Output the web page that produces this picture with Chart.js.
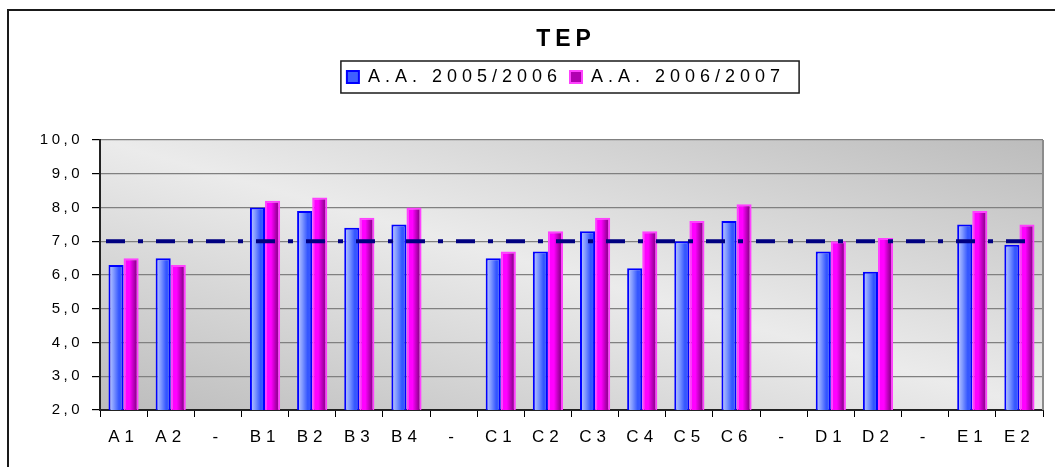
<!DOCTYPE html>
<html>
<head>
<meta charset="utf-8">
<script src="https://cdn.jsdelivr.net/npm/chart.js@4/dist/chart.umd.min.js"></script>
<style>
  html, body { margin: 0; padding: 0; background: #fff; overflow: hidden; }
  canvas { display: block; }
</style>
</head>
<body>
<canvas id="myChart" width="1055" height="467"></canvas>
<script>
// dati
const categorie = ['A1', 'A2', '-', 'B1', 'B2', 'B3', 'B4', '-', 'C1', 'C2', 'C3', 'C4', 'C5', 'C6', '-', 'D1', 'D2', '-', 'E1', 'E2'];
const aa0506 = [6.3, 6.5, null, 8.0, 7.9, 7.4, 7.5, null, 6.5, 6.7, 7.3, 6.2, 7.0, 7.6, null, 6.7, 6.1, null, 7.5, 6.9];
const aa0607 = [6.5, 6.3, null, 8.2, 8.3, 7.7, 8.0, null, 6.7, 7.3, 7.7, 7.3, 7.6, 8.1, null, 7.0, 7.1, null, 7.9, 7.5];
const serie = ['A.A. 2005/2006', 'A.A. 2006/2007'];
const yMin = 2, yMax = 10, yPasso = 1;
const soglia = 7.0;

const catPct = 0.64;
const spaziatura = '5px';

Chart.defaults.font.family = "'Liberation Sans', Arial, sans-serif";
Chart.defaults.color = '#000';

// gradiente orizzontale per ogni barra
function riempimento(stops, lato, fallback) {
    return (c) => {
        const chart = c.chart;
        const x = chart.scales && chart.scales.x;
        if (!chart.chartArea || c.dataIndex === undefined || !x) return fallback;
        const centro = x.getPixelForValue(c.dataIndex);
        const w = x.width / categorie.length * catPct / 2;
        const x0 = lato === 0 ? centro - w : centro;
        const g = chart.ctx.createLinearGradient(x0, 0, x0 + w, 0);
        stops.forEach(s => g.addColorStop(s[0], s[1]));
        return g;
    };
}

const blu = [[0, '#c4ceff'], [0.35, '#7f98ff'], [0.7, '#3355ff'], [1, '#3f5fff']];
const magenta = [[0, '#ff00ff'], [0.4, '#ff00ff'], [0.8, '#990099'], [1, '#b000b0']];

const sfondo = {
    id: 'sfondo',
    beforeUpdate(chart) { chart.ctx.letterSpacing = spaziatura; },
    afterLayout(chart) {
        // l'asse y è stretto per centrare titolo e legenda: allarga solo l'area delle etichette
        chart.scales.y.left = 20;
    },
    beforeDraw(chart) {
        const { ctx, chartArea: a } = chart;
        ctx.letterSpacing = spaziatura;
        ctx.save();
        ctx.strokeStyle = '#1a1a1a';
        ctx.lineWidth = 2;
        ctx.strokeRect(8, 10, 1200, 600);
        const W = a.right - a.left, H = a.bottom - a.top;
        const L = Math.sqrt(W * W + H * H);
        const cx = (a.left + a.right) / 2, cy = (a.top + a.bottom) / 2;
        const k = W * H / L, nx = H / L, ny = -W / L;
        const g = ctx.createLinearGradient(cx - nx * k, cy - ny * k, cx + nx * k, cy + ny * k);
        g.addColorStop(0, '#bcbcbc');
        g.addColorStop(0.5, '#ebebeb');
        g.addColorStop(1, '#bcbcbc');
        ctx.fillStyle = g;
        ctx.fillRect(a.left, a.top, W, H);
        ctx.restore();
    },
    beforeDatasetsDraw(chart) {
        const { ctx, chartArea: a } = chart;
        ctx.save();
        ctx.strokeStyle = '#8c8c8c';
        ctx.lineWidth = 2;
        ctx.beginPath();
        ctx.moveTo(a.right, a.top);
        ctx.lineTo(a.right, a.bottom);
        ctx.stroke();
        ctx.restore();
    },
    afterDatasetsDraw(chart) {
        // linea di riferimento a 7,0
        const { ctx, chartArea: a } = chart;
        const y = chart.scales.y.getPixelForValue(soglia);
        ctx.save();
        ctx.strokeStyle = '#000080';
        ctx.lineWidth = 4;
        ctx.setLineDash([19, 13, 5, 13]);
        ctx.beginPath();
        ctx.moveTo(a.left + 6, y);
        ctx.lineTo(a.right - 11, y);
        ctx.stroke();
        ctx.restore();
        // le etichette dell'asse y (z: 1) vengono disegnate dopo, con spaziatura minore
        ctx.letterSpacing = '3.5px';
    },
    afterDraw(chart) {
        // cornice della legenda
        const boxes = chart.legend.legendHitBoxes;
        if (!boxes || !boxes.length) return;
        const first = boxes[0], last = boxes[boxes.length - 1];
        const cy = first.top + first.height / 2;
        const ctx = chart.ctx;
        ctx.save();
        ctx.strokeStyle = '#1a1a1a';
        ctx.lineWidth = 1.5;
        const x0 = first.left - 6;
        ctx.strokeRect(x0, cy - 16, last.left + last.width + 14 - x0, 32);
        ctx.restore();
    }
};

const ctx = document.getElementById('myChart');

new Chart(ctx, {
    type: 'bar',
    data: {
        labels: categorie,
        datasets: [{
            label: serie[0],
            data: aa0506,
            backgroundColor: riempimento(blu, 0, '#5a78ff'),
            borderColor: '#0000ff',
            borderWidth: 2
        }, {
            label: serie[1],
            data: aa0607,
            backgroundColor: riempimento(magenta, 1, '#e600e6'),
            borderColor: '#ff40ff',
            borderWidth: 2
        }]
    },
    options: {
        responsive: false,
        animation: false,
        devicePixelRatio: 1,
        categoryPercentage: catPct,
        barPercentage: 1.0,
        layout: { padding: { left: 89, right: 12, top: 10, bottom: 0 } },
        plugins: {
            title: {
                display: true,
                text: 'TEP',
                font: { size: 23, weight: 'bold' },
                padding: { top: 16, bottom: 6.4 },
                weight: 2000
            },
            legend: {
                position: 'top',
                weight: 1000,
                labels: {
                    font: { size: 18 },
                    boxWidth: 12,
                    boxHeight: 12,
                    padding: 8
                }
            },
            subtitle: {
                display: true,
                text: '',
                font: { size: 1 },
                padding: { top: 42.8, bottom: 0 },
                weight: 500
            },
            tooltip: { enabled: false }
        },
        scales: {
            x: {
                grid: { drawOnChartArea: false, color: '#000', tickLength: 7 },
                border: { color: '#222', width: 2 },
                ticks: { font: { size: 17 }, padding: 10, autoSkip: false, maxRotation: 0 },
                afterFit(scale) { scale.height = 57; }
            },
            y: {
                min: yMin,
                max: yMax,
                grid: { color: '#808080', lineWidth: 1.2, tickColor: '#000', tickLength: 8 },
                border: { color: '#222', width: 2 },
                ticks: {
                    stepSize: yPasso,
                    z: 1,
                    font: { size: 15 },
                    padding: 9,
                    callback: v => v.toFixed(1).replace('.', ',')
                },
                afterFit(scale) { scale.width = 11; }
            }
        }
    },
    plugins: [sfondo]
});
</script>
</body>
</html>
